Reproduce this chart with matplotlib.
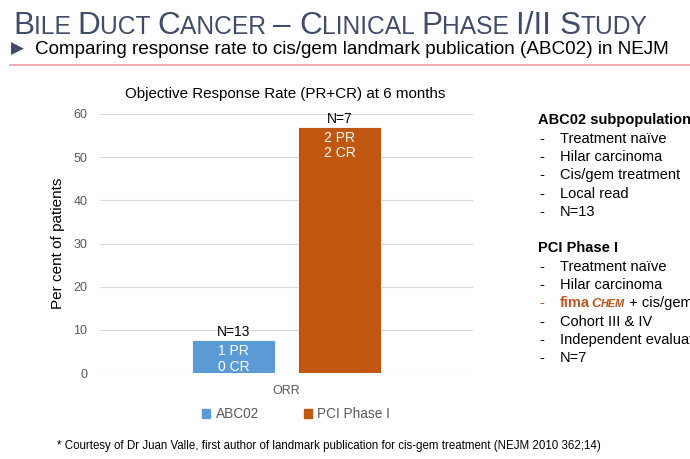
import matplotlib
matplotlib.use("Agg")
import matplotlib.pyplot as plt
from matplotlib.patches import Patch

series = ["ABC02", "PCI Phase I"]
values = [7.7, 57.1]
n_labels = ["N=13", "N=7"]
inner_labels = ["1 PR\n0 CR", "2 PR\n2 CR"]
colors = ["#5b9bd5", "#c0560f"]
yticks = [0, 10, 20, 30, 40, 50, 60]

abc_lines = ["Treatment naïve", "Hilar carcinoma", "Cis/gem treatment", "Local read", "N=13"]
pci_lines = ["Treatment naïve", "Hilar carcinoma", None, "Cohort III & IV", "Independent evaluation", "N=7"]

plt.rcParams["font.family"] = ["Liberation Sans", "DejaVu Sans"]

W, H = 690, 459
fig = plt.figure(figsize=(W / 100, H / 100), dpi=100)
fig.patch.set_facecolor("white")


def px(x, y):
    return x / W, 1 - y / H


ax = fig.add_axes([100 / W, 1 - 373 / H, 373 / W, (373 - 114) / H])
bw = 0.2225
xs = [-0.142, 0.142]
ax.bar(xs, values, width=bw, color=colors, edgecolor="white", linewidth=0.6, zorder=3)
ax.set_xlim(-0.5, 0.5)
ax.set_ylim(0, 60)
ax.set_yticks(yticks)
ax.set_xticks([0])
ax.set_xticklabels(["ORR"])
ax.tick_params(length=0, colors="#595959", labelsize=9)
ax.tick_params(axis="y", pad=9)
ax.tick_params(axis="x", pad=9)
ax.grid(axis="y", color="#d9d9d9", linewidth=0.8, zorder=0)
for s in ax.spines.values():
    s.set_visible(False)
ax.set_ylabel("Per cent of patients", fontsize=11)
ax.yaxis.set_label_coords(-0.095, 0.5)

for x, v, n, lab in zip(xs, values, n_labels, inner_labels):
    ax.text(x, v + 0.2, n, ha="center", va="bottom", fontsize=10, color="black")
    ax.text(x, v - 1.0, lab, ha="center", va="top", fontsize=10, color="white", linespacing=1.15)

fig.text(*px(285, 94), "Objective Response Rate (PR+CR) at 6 months", ha="center", va="center",
         fontsize=10.9, color="black")

handles = [Patch(color=c) for c in colors]
fig.legend(handles, series, loc="center", bbox_to_anchor=px(296, 414), ncol=2, frameon=False,
           handlelength=0.6, handleheight=0.6, handletextpad=0.4, columnspacing=3.3,
           fontsize=9.8, labelcolor="#595959")

# header title in small caps
fig.canvas.draw()
renderer = fig.canvas.get_renderer()
title_color = "#414c69"
pieces = [("B", 1), ("ILE ", 0), ("D", 1), ("UCT ", 0), ("C", 1), ("ANCER ", 0), ("– ", 1),
          ("C", 1), ("LINICAL ", 0), ("P", 1), ("HASE ", 0), ("I/II ", 1), ("S", 1), ("TUDY", 0)]
x0 = 13
for txt, big in pieces:
    t = fig.text(x0 / W, 1 - 34 / H, txt, fontsize=22.7 if big else 17.7, color=title_color,
                 ha="left", va="baseline")
    x0 += t.get_window_extent(renderer).width

fig.text(*px(11, 49), "▶", fontsize=12, color="#414c69", ha="left", va="center", family="DejaVu Sans")
fig.text(*px(35, 49), "Comparing response rate to cis/gem landmark publication (ABC02) in NEJM",
         fontsize=13.6, color="black", ha="left", va="center")
fig.add_artist(plt.Line2D([10 / W, 1], [1 - 65 / H] * 2, color="#f0a0a8", linewidth=1.2))

# right side notes
fs = 10.5
dash_x, text_x = 539, 560
fig.text(*px(538, 120), "ABC02 subpopulation", fontsize=fs, fontweight="bold", ha="left", va="center")
y = 139
for line in abc_lines:
    fig.text(*px(dash_x, y), "-", fontsize=fs, ha="left", va="center")
    fig.text(*px(text_x, y), line, fontsize=fs, ha="left", va="center")
    y += 18.2
fig.text(*px(538, 248), "PCI Phase I", fontsize=fs, fontweight="bold", ha="left", va="center")
y = 267
brand = "#c0561a"
for line in pci_lines:
    if line is None:
        fig.text(*px(dash_x, y), "-", fontsize=fs, ha="left", va="center", color=brand)
        t1 = fig.text(*px(text_x, y), "fima", fontsize=fs, fontweight="bold", ha="left", va="center",
                      color=brand)
        xx = text_x + t1.get_window_extent(renderer).width + 1
        t2 = fig.text(*px(xx, y + 0.5), "C", fontsize=9.5, fontweight="bold", style="italic",
                      ha="left", va="center", color=brand)
        xx += t2.get_window_extent(renderer).width
        t3 = fig.text(*px(xx, y + 1), "HEM", fontsize=7.8, fontweight="bold", style="italic",
                      ha="left", va="center", color=brand)
        xx += t3.get_window_extent(renderer).width
        fig.text(*px(xx, y), " + cis/gem", fontsize=fs, ha="left", va="center")
    else:
        fig.text(*px(dash_x, y), "-", fontsize=fs, ha="left", va="center")
        fig.text(*px(text_x, y), line, fontsize=fs, ha="left", va="center")
    y += 18.2

fig.text(*px(57, 446), "* Courtesy of Dr Juan Valle, first author of landmark publication for cis-gem treatment (NEJM 2010 362;14)",
         fontsize=8.3, ha="left", va="center")

fig.savefig("out.png", dpi=100)
